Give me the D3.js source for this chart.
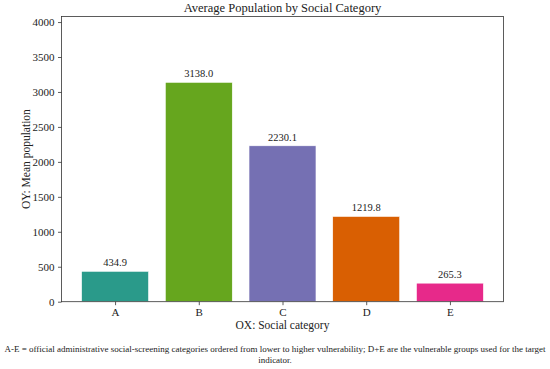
<!DOCTYPE html>
<html>
<head>
<meta charset="utf-8">
<script src="https://cdn.jsdelivr.net/npm/d3@7"></script>
<style>
  body { margin: 0; background: #fff; }
  text { font-family: "Times New Roman", "Liberation Serif", serif; fill: #222; }
</style>
</head>
<body>
<div id="chart"></div>
<script>
// data
const categories = ["A", "B", "C", "D", "E"];
const meanPop = [434.9, 3138.0, 2230.1, 1219.8, 265.3];
const barColors = ["#2a9a8a", "#66a61e", "#7570b3", "#d95f02", "#e7298a"];
const yTicks = [0, 500, 1000, 1500, 2000, 2500, 3000, 3500, 4000];
const footLines = [
  "A-E = official administrative social-screening categories ordered from lower to higher vulnerability; D+E are the vulnerable groups used for the target",
  "indicator."
];

const width = 550, height = 369;
const plotL = 61.5, plotR = 503.5, plotT = 16.5, plotB = 301.7;

const svg = d3.select("#chart").append("svg")
  .attr("width", width)
  .attr("height", height);

// matplotlib-like margins: bars from -0.4 to 4.4, plus 5% each side
const x = d3.scaleLinear().domain([-0.64, 4.64]).range([plotL, plotR]);
const y = d3.scaleLinear().domain([0, 3138.0 * 1.3]).range([plotB, plotT]);
const barW = x(0.8) - x(0);

// bars
svg.selectAll("rect.bar")
  .data(meanPop)
  .join("rect")
  .attr("class", "bar")
  .attr("x", (d, i) => x(i) - barW / 2)
  .attr("y", d => y(d))
  .attr("width", barW)
  .attr("height", d => y(0) - y(d))
  .attr("fill", (d, i) => barColors[i])
  .attr("stroke", "#fff")
  .attr("stroke-width", 0.6);

// value labels
svg.selectAll("text.val")
  .data(meanPop)
  .join("text")
  .attr("class", "val")
  .attr("x", (d, i) => x(i))
  .attr("y", d => y(d) - 5)
  .attr("text-anchor", "middle")
  .style("font-size", "10.5px")
  .text(d => d.toFixed(1));

// axes
const yAxis = d3.axisLeft(y).tickValues(yTicks).tickSize(3.5).tickPadding(3.5).tickFormat(d3.format("d"));
const xAxis = d3.axisBottom(x).tickValues(d3.range(categories.length)).tickSize(3.5).tickPadding(3.5)
  .tickFormat(i => categories[i]);

const gy = svg.append("g").attr("transform", `translate(${plotL},0)`).call(yAxis);
const gx = svg.append("g").attr("transform", `translate(0,${plotB})`).call(xAxis);
[gx, gy].forEach(g => {
  g.attr("font-family", null);
  g.select(".domain").remove();
  g.selectAll(".tick line").attr("stroke", "#333").attr("stroke-width", 0.8);
  g.selectAll(".tick text").style("font-size", "11px").attr("fill", "#222");
});

// frame
svg.append("rect")
  .attr("x", plotL).attr("y", plotT)
  .attr("width", plotR - plotL).attr("height", plotB - plotT)
  .attr("fill", "none").attr("stroke", "#333").attr("stroke-width", 0.8);

// title and axis labels
svg.append("text")
  .attr("x", (plotL + plotR) / 2).attr("y", 12)
  .attr("text-anchor", "middle")
  .style("font-size", "12.5px")
  .text("Average Population by Social Category");

svg.append("text")
  .attr("x", (plotL + plotR) / 2).attr("y", 329)
  .attr("text-anchor", "middle")
  .style("font-size", "11.5px")
  .text("OX: Social category");

svg.append("text")
  .attr("transform", `translate(30,${(plotT + plotB) / 2}) rotate(-90)`)
  .attr("text-anchor", "middle")
  .style("font-size", "11.5px")
  .text("OY: Mean population");

// footnote
svg.selectAll("text.foot")
  .data(footLines)
  .join("text")
  .attr("class", "foot")
  .attr("x", width / 2)
  .attr("y", (d, i) => 352 + i * 11)
  .attr("text-anchor", "middle")
  .style("font-size", "9px")
  .text(d => d);
</script>
</body>
</html>
